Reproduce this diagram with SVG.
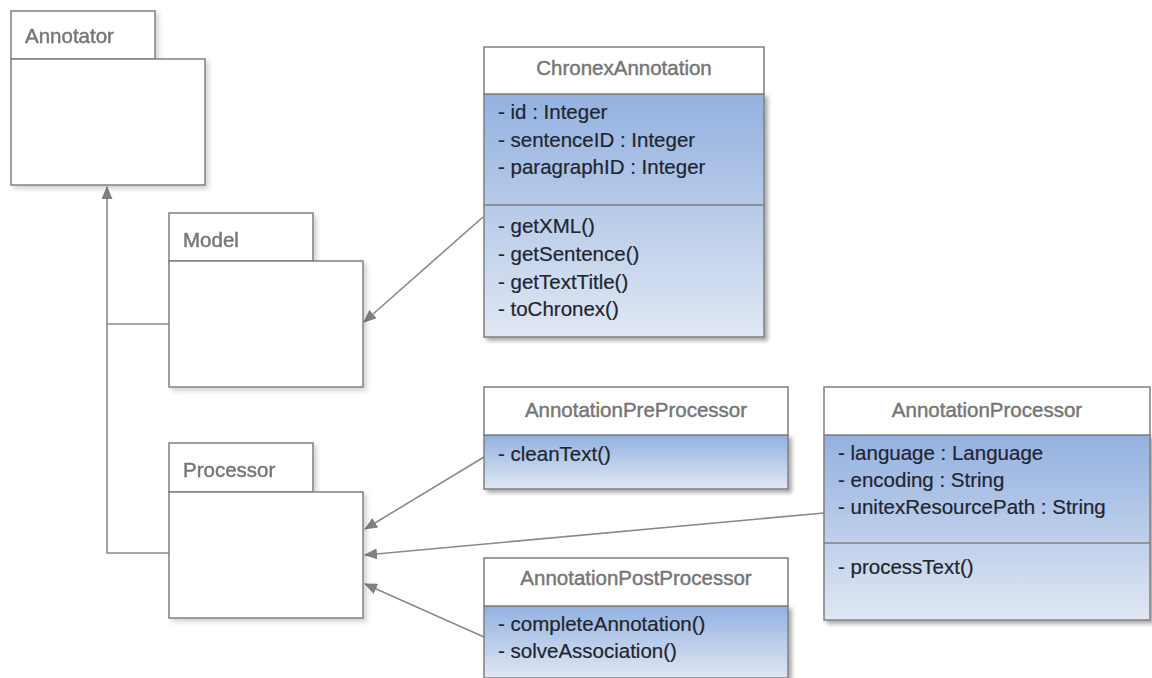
<svg xmlns="http://www.w3.org/2000/svg" width="1152" height="678" viewBox="0 0 1152 678">
<style>
.box{fill:#ffffff;stroke:#808080;stroke-width:1.5}
.body{fill:url(#cg);stroke:#808080;stroke-width:1.5}
.sep{stroke:#808080;stroke-width:1.5}
.ttl{font-family:"Liberation Sans",Arial,sans-serif;font-size:20.5px;fill:#767676;stroke:#767676;stroke-width:0.45}
.tc{text-anchor:middle}
.itm{font-family:"Liberation Sans",Arial,sans-serif;font-size:20.5px;fill:#22252f;stroke:#22252f;stroke-width:0.2}
.con{fill:none;stroke:#8a8a8a;stroke-width:1.6}
</style>
<defs>
<linearGradient id="cg" x1="0" y1="0" x2="0" y2="1">
<stop offset="0" stop-color="#93b1e0"/>
<stop offset="1" stop-color="#e0e7f3"/>
</linearGradient>
<filter id="sh" x="-10%" y="-10%" width="130%" height="130%">
<feDropShadow dx="3" dy="3" stdDeviation="2" flood-color="#000" flood-opacity="0.35"/>
</filter>
<filter id="shl" x="-10%" y="-10%" width="130%" height="130%">
<feDropShadow dx="3" dy="3" stdDeviation="2.5" flood-color="#000" flood-opacity="0.18"/>
</filter>
<marker id="ah" viewBox="0 0 13 11" refX="12" refY="5.5" markerWidth="13" markerHeight="11" markerUnits="userSpaceOnUse" orient="auto">
<path d="M0,0 L13,5.5 L0,11 Z" fill="#808080"/>
</marker>
</defs>

<g id="connectors">
<polyline class="con" points="169,324 107,324"/>
<polyline class="con" points="169,553 107,553 107,187" marker-end="url(#ah)"/>
<line class="con" x1="483" y1="217" x2="364" y2="322" marker-end="url(#ah)"/>
<line class="con" x1="484" y1="457" x2="365" y2="529" marker-end="url(#ah)"/>
<line class="con" x1="824" y1="513" x2="365" y2="555" marker-end="url(#ah)"/>
<line class="con" x1="484" y1="637" x2="365" y2="584" marker-end="url(#ah)"/>
</g>

<g id="Annotator" filter="url(#shl)">
<rect class="box" x="11" y="11" width="144" height="48"/>
<rect class="box" x="11" y="59" width="194" height="126"/>
<text class="ttl" x="25" y="43">Annotator</text>
</g>

<g id="Model" filter="url(#shl)">
<rect class="box" x="169" y="213" width="144" height="48"/>
<rect class="box" x="169" y="261" width="194" height="126"/>
<text class="ttl" x="183" y="247">Model</text>
</g>

<g id="Processor" filter="url(#shl)">
<rect class="box" x="169" y="443" width="144" height="49"/>
<rect class="box" x="169" y="492" width="194" height="126"/>
<text class="ttl" x="183" y="477">Processor</text>
</g>

<g id="ChronexAnnotation">
<g filter="url(#sh)">
<rect class="body" x="484" y="94" width="280" height="243"/>
</g>
<rect class="box" x="484" y="47" width="280" height="47"/>
<line class="sep" x1="484" y1="205" x2="764" y2="205"/>
<text class="ttl tc" x="624" y="75">ChronexAnnotation</text>
<text class="itm" x="498" y="119">- id : Integer</text>
<text class="itm" x="498" y="147">- sentenceID : Integer</text>
<text class="itm" x="498" y="174">- paragraphID : Integer</text>
<text class="itm" x="498" y="233">- getXML()</text>
<text class="itm" x="498" y="261">- getSentence()</text>
<text class="itm" x="498" y="289">- getTextTitle()</text>
<text class="itm" x="498" y="316">- toChronex()</text>
</g>

<g id="AnnotationPreProcessor">
<g filter="url(#sh)">
<rect class="body" x="484" y="435" width="304" height="54"/>
</g>
<rect class="box" x="484" y="387" width="304" height="48"/>
<text class="ttl tc" x="636" y="417">AnnotationPreProcessor</text>
<text class="itm" x="498" y="461">- cleanText()</text>
</g>

<g id="AnnotationPostProcessor">
<g filter="url(#sh)">
<rect class="body" x="484" y="606" width="304" height="72"/>
</g>
<rect class="box" x="484" y="558" width="304" height="48"/>
<text class="ttl tc" x="636" y="585">AnnotationPostProcessor</text>
<text class="itm" x="498" y="631">- completeAnnotation()</text>
<text class="itm" x="498" y="658">- solveAssociation()</text>
</g>

<g id="AnnotationProcessor">
<g filter="url(#sh)">
<rect class="body" x="824" y="435" width="326" height="185"/>
</g>
<rect class="box" x="824" y="387" width="326" height="48"/>
<line class="sep" x1="824" y1="543" x2="1150" y2="543"/>
<text class="ttl tc" x="987" y="417">AnnotationProcessor</text>
<text class="itm" x="838" y="460">- language : Language</text>
<text class="itm" x="838" y="487">- encoding : String</text>
<text class="itm" x="838" y="514">- unitexResourcePath : String</text>
<text class="itm" x="838" y="574">- processText()</text>
</g>
</svg>
